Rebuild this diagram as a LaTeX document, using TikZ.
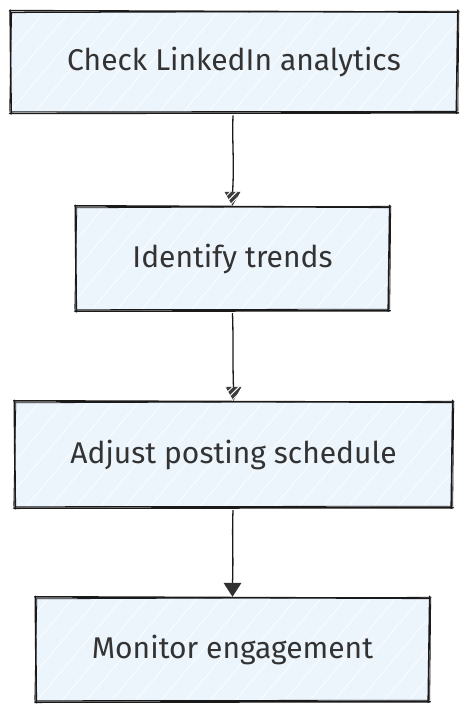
\documentclass[tikz,border=0pt]{standalone}
\usepackage{fontspec}
\setmainfont{Fira Sans}
\usetikzlibrary{patterns.meta,arrows.meta,calc}
\definecolor{boxfill}{HTML}{ECF4FC}
\definecolor{txt}{HTML}{333333}
\definecolor{ink}{HTML}{1A1A1A}
\tikzset{
  flowbox/.style={draw=none, preaction={fill=boxfill},
    pattern={Lines[angle=50,distance=19pt,line width=0.7pt]}, pattern color=white,
    text=txt, font=\fontsize{30}{36}\selectfont, inner sep=0pt},
  edge/.style={draw=ink, line width=1.6pt, line cap=round},
  edgethin/.style={draw=ink, line width=0.8pt, line cap=round},
  conn/.style={draw=ink, line width=1.3pt},
  hatchtip/.style={fill=ink!85},
  tiphatch/.style={pattern={Lines[angle=45,distance=4.5pt,line width=1pt]}, pattern color=white},
}
\newcommand{\sketchedges}[1]{%
  \draw[edge] ($(#1.north west)+(-1,1)$) -- ($(#1.north east)+(1,-0.5)$);
  \draw[edgethin] ($(#1.north west)+(0,-1)$) -- ($(#1.north east)+(2,0.5)$);
  \draw[edge] ($(#1.north east)+(0.5,1.5)$) -- ($(#1.south east)+(-1,-1)$);
  \draw[edgethin] ($(#1.north east)+(1.5,-1)$) -- ($(#1.south east)+(0.5,1)$);
  \draw[edge] ($(#1.south east)+(1,-0.5)$) -- ($(#1.south west)+(-1,-1)$);
  \draw[edgethin] ($(#1.south east)+(-1,1)$) -- ($(#1.south west)+(1,0.5)$);
  \draw[edge] ($(#1.south west)+(0.5,-1.5)$) -- ($(#1.north west)+(-0.5,1.5)$);
  \draw[edgethin] ($(#1.south west)+(-1,1)$) -- ($(#1.north west)+(1,-1)$);
}
\newcommand{\hatchedtip}[1]{%
  \fill[hatchtip] ($(#1)+(0,1)$) -- ($(#1)+(-8,15)$) -- ($(#1)+(8,15)$) -- cycle;
  \fill[tiphatch] ($(#1)+(0,1)$) -- ($(#1)+(-8,15)$) -- ($(#1)+(8,15)$) -- cycle;
}
\newcommand{\lowered}[1]{\raisebox{-2.5pt}{#1}}
\begin{document}
\begin{tikzpicture}[x=1pt,y=1pt]
\useasboundingbox (0,0) rectangle (469,-715);
\fill[white] (0,0) rectangle (469,-715);
\node[flowbox, minimum width=446pt, minimum height=100pt] (a) at (234,-62) {\lowered{Check LinkedIn analytics}};
\node[flowbox, minimum width=313pt, minimum height=103pt] (b) at (232.5,-258.5) {\lowered{Identify trends}};
\node[flowbox, minimum width=437pt, minimum height=105pt] (c) at (233.5,-454.5) {\lowered{Adjust posting schedule}};
\node[flowbox, minimum width=393pt, minimum height=103pt] (d) at (232.5,-649.5) {\lowered{Monitor engagement}};
\sketchedges{a}
\sketchedges{b}
\sketchedges{c}
\sketchedges{d}
% connectors
\draw[conn] ($(a.south)+(-1,-3)$) .. controls +(-1,-30) and +(2,30) .. ($(b.north)+(0,14)$);
\draw[conn] ($(b.south)+(0,-3)$) .. controls +(1,-30) and +(-1,30) .. ($(c.north)+(0,14)$);
\draw[conn] ($(c.south)+(-0.5,-3)$) .. controls +(-1,-30) and +(1,30) .. ($(d.north)+(0,14)$);
\hatchedtip{b.north}
\hatchedtip{c.north}
\fill[ink!90] ($(d.north)+(0,1)$) -- ($(d.north)+(-9,15)$) -- ($(d.north)+(9,15)$) -- cycle;
\end{tikzpicture}
\end{document}
